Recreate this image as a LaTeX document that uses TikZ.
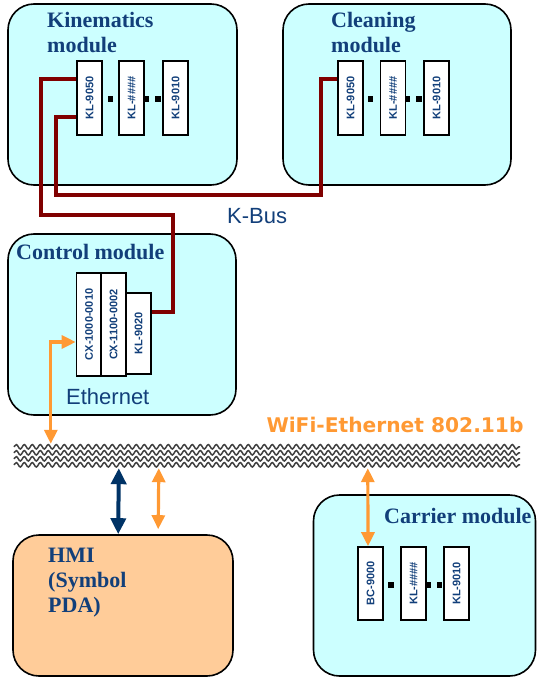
\documentclass[tikz,border=0pt]{standalone}
\usepackage{fontspec}
\usepackage{graphicx}
\setmainfont{Liberation Serif}
\setsansfont{Liberation Sans}
\newfontfamily\widesans{DejaVu Sans}
\usetikzlibrary{arrows.meta,decorations.pathmorphing}

\definecolor{modfill}{HTML}{CCFFFF}
\definecolor{hmifill}{HTML}{FFCC99}
\definecolor{labelblue}{HTML}{123F7A}
\definecolor{busred}{HTML}{800000}
\definecolor{wifiorange}{HTML}{FF9933}
\definecolor{navyarrow}{HTML}{003366}
\definecolor{wavegray}{HTML}{404040}

\tikzset{
  modulebox/.style={draw=black, line width=1.6pt, rounded corners=26pt,
    fill=modfill, inner sep=0pt},
  slice/.style={draw=black, line width=1.6pt, fill=white, inner sep=0pt,
    minimum width=25pt, minimum height=74pt,
    font=\sffamily\bfseries\fontsize{11}{12}\selectfont, text=labelblue},
  title/.style={anchor=base west, inner sep=0pt, text=labelblue,
    font=\bfseries\fontsize{22}{25}\selectfont},
  sanslabel/.style={anchor=base west, inner sep=0pt, text=labelblue,
    font=\sffamily\fontsize{22}{25}\selectfont},
  bdot/.style={fill=black, minimum size=5.5pt, inner sep=0pt},
  kbus/.style={draw=busred, line width=3.5pt},
  wave/.style={draw=wavegray, line width=1.5pt,
    decorate, decoration={snake, segment length=8pt, amplitude=2.2pt}},
  orangelink/.style={draw=wifiorange, line width=3.2pt,
    {Triangle[width=13pt,length=14pt]}-{Triangle[width=13pt,length=14pt]}},
  navylink/.style={draw=navyarrow, line width=4pt,
    {Triangle[width=15pt,length=16pt]}-{Triangle[width=15pt,length=16pt]}},
}

\begin{document}
\begin{tikzpicture}[x=1pt, y=-1pt]
\useasboundingbox (0,0) rectangle (537,679);

% ---------- module housings ----------
\node[modulebox, minimum width=229pt, minimum height=181pt] (kin) at (122.5,94.5) {};
\node[modulebox, minimum width=228pt, minimum height=181pt] (cln) at (397,94.5) {};
\node[modulebox, minimum width=228pt, minimum height=181pt] (ctl) at (122,324.5) {};
\node[modulebox, minimum width=222pt, minimum height=181pt] (car) at (424.5,585.5) {};
\node[modulebox, fill=hmifill, minimum width=220pt, minimum height=141pt] (hmi) at (123,605.5) {};

% ---------- titles ----------
\node[title] (kinA) at (47,28) {Kinematics};
\node[title] (kinB) at (47,53) {module};
\node[title] (clnA) at (331,28) {Cleaning};
\node[title] (clnB) at (331,53) {module};
\node[title] (ctlA) at (16,259) {Control module};
\node[title] (carA) at (384,523) {Carrier module};
\node[title] (hmiA) at (48,562) {HMI};
\node[title] (hmiB) at (48,587) {(Symbol};
\node[title] (hmiC) at (48,612) {PDA)};

% ---------- terminal slices ----------
\node[slice] (k1) at (89.5,98) {\rotatebox{90}{KL-9050}};
\node[slice] (k2) at (131.5,98) {\rotatebox{90}{KL-\#\#\#\#}};
\node[slice] (k3) at (175.5,98) {\rotatebox{90}{KL-9010}};

\node[slice] (c1) at (350.5,98) {\rotatebox{90}{KL-9050}};
\node[slice] (c2) at (393,98) {\rotatebox{90}{KL-\#\#\#\#}};
\node[slice] (c3) at (436.5,98) {\rotatebox{90}{KL-9010}};

\node[slice, minimum height=103pt] (cx1) at (89,324.5) {\rotatebox{90}{CX-1000-0010}};
\node[slice, minimum height=103pt] (cx2) at (113.5,324.5) {\rotatebox{90}{CX-1100-0002}};
\node[slice, minimum height=81pt] (kl20) at (138.5,333.5) {\rotatebox{90}{KL-9020}};

\node[slice, minimum height=73pt] (bc) at (370.5,583.5) {\rotatebox{90}{BC-9000}};
\node[slice, minimum height=73pt] (r2) at (413.5,583.5) {\rotatebox{90}{KL-\#\#\#\#}};
\node[slice, minimum height=73pt] (r3) at (456.5,583.5) {\rotatebox{90}{KL-9010}};

% ---------- continuation dots ----------
\node[bdot] (kd1) at (110.5,99) {};
\node[bdot] (kd2) at (146.5,99) {};
\node[bdot] (kd3) at (158,99) {};
\node[bdot] (cd1) at (370.5,99) {};
\node[bdot] (cd2) at (407.5,99) {};
\node[bdot] (cd3) at (419,99) {};
\node[bdot] (rd1) at (391,585) {};
\node[bdot] (rd2) at (428,585) {};
\node[bdot] (rd3) at (439.5,585) {};

% ---------- K-Bus wiring ----------
\draw[kbus] ([yshift=19pt]k1.west) -- ++(-35,0) |- (173,215) |- ([yshift=21.5pt]kl20.east);
\draw[kbus] ([yshift=-19pt]k1.west) -- ++(-20,0) |- (321,195) |- ([yshift=19pt]c1.west);
\node[sanslabel] (kbuslabel) at (227,223) {K-Bus};

% ---------- Ethernet ----------
\node[sanslabel] (ethlabel) at (66,404) {Ethernet};

% ---------- wireless band ----------
\node[minimum width=506pt, minimum height=24pt, inner sep=0pt] (band) at (267,456) {};
\foreach \dy in {3,9,15,21}
  \draw[wave] ([yshift=-\dy pt]band.north west) -- ([yshift=-\dy pt]band.north east);
\node[anchor=base, inner sep=0pt, text=wifiorange,
      font=\widesans\bfseries\fontsize{20.2}{24}\selectfont] (wifilabel) at (395,432)
  {WiFi-Ethernet 802.11b};

% ---------- links ----------
\draw[orangelink] ([xshift=37pt]band.north west) |- ([yshift=-17.5pt]cx1.west);
\draw[navylink] ([xshift=105pt]band.south west) -- ([xshift=106pt]hmi.north west);
\draw[orangelink] ([xshift=145pt]band.south west) -- ([xshift=146pt,yshift=5pt]hmi.north west);
\draw[orangelink] ([xshift=354pt]band.south west) -- ([xshift=-2.5pt]bc.north);

\end{tikzpicture}
\end{document}
